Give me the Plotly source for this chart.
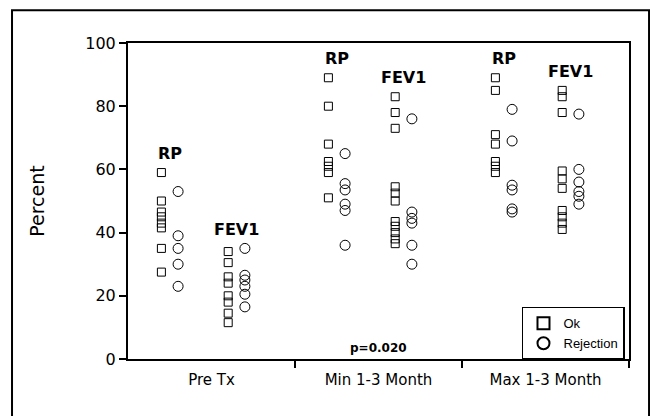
import plotly.graph_objects as go

categories = ["Pre Tx", "Min 1-3 Month", "Max 1-3 Month"]
y_ticks = [0, 20, 40, 60, 80, 100]
measures = ["RP", "FEV1"]
groups = ["Ok", "Rejection"]

# values per category (Pre Tx, Min 1-3 Month, Max 1-3 Month)
rp_ok = [[59, 50, 46.5, 45, 43, 41.5, 35, 27.5],
         [89, 80, 68, 62.5, 61, 59, 51],
         [89, 85, 71, 68, 62.5, 61, 59]]
rp_rej = [[53, 39, 35, 30, 23],
          [65, 55.5, 53.5, 49, 47, 36],
          [79, 69, 55, 53.5, 47.5, 46.5]]
fev1_ok = [[34, 30.5, 26, 24, 20, 18, 14.5, 11.5],
           [83, 78, 73, 54.5, 52.5, 50, 43.5, 42, 40, 38, 36.5],
           [85, 83, 78, 59.5, 57, 54, 47, 45, 43, 41]]
fev1_rej = [[35, 26.5, 25, 23, 20.5, 16.5],
            [76, 46.5, 44.5, 43, 36, 30],
            [77.5, 60, 56, 53, 51.5, 49]]
p_text = "p=0.020"

FONT = "DejaVu Sans, Arial, sans-serif"

# horizontal placement of columns inside each category (category units)
off = {("RP", "Ok"): -0.30, ("RP", "Rejection"): -0.20,
       ("FEV1", "Ok"): 0.10, ("FEV1", "Rejection"): 0.20}
data = {("RP", "Ok"): rp_ok, ("RP", "Rejection"): rp_rej,
        ("FEV1", "Ok"): fev1_ok, ("FEV1", "Rejection"): fev1_rej}

fig = go.Figure()
sym = {"Ok": ("square-open", 8), "Rejection": ("circle-open", 10)}
for g in groups:
    xs, ys = [], []
    for m in measures:
        for ci, vals in enumerate(data[(m, g)]):
            xs += [ci + off[(m, g)]] * len(vals)
            ys += vals
    fig.add_trace(go.Scatter(
        x=xs, y=ys, mode="markers", name=g,
        marker=dict(symbol=sym[g][0], size=sym[g][1], color="black",
                    line=dict(width=1, color="black")),
        cliponaxis=False))

annotations = []
for m in measures:
    for ci in range(len(categories)):
        top = max(max(data[(m, "Ok")][ci]), max(data[(m, "Rejection")][ci]))
        annotations.append(dict(
            x=ci + (off[(m, "Ok")] + off[(m, "Rejection")]) / 2, y=top + 6,
            xref="x", yref="y", text="<b>%s</b>" % m, showarrow=False,
            font=dict(family=FONT, size=16, color="black")))
annotations.append(dict(x=1, y=3.5, xref="x", yref="y", text="<b>%s</b>" % p_text,
                        showarrow=False, font=dict(family=FONT, size=12, color="black")))

fig.update_layout(
    width=650, height=416,
    margin=dict(l=128, r=21, t=43, b=57),
    paper_bgcolor="white", plot_bgcolor="white",
    font=dict(family=FONT, color="black"),
    showlegend=True,
    legend=dict(x=0.992, y=0.165, xanchor="right", yanchor="top",
                bordercolor="black", borderwidth=1.5, bgcolor="white",
                font=dict(family="Liberation Sans, Arial, sans-serif", size=13, color="black"),
                itemsizing="constant", itemwidth=30, tracegroupgap=0,
                traceorder="normal"),
    xaxis=dict(range=[-0.5, 2.5], tickmode="array",
               tickvals=list(range(len(categories))), ticktext=categories,
               ticks="outside", ticklen=6, tickcolor="rgba(0,0,0,0)",
               tickfont=dict(family=FONT, size=15, color="black"),
               showline=True, linecolor="black", linewidth=2, mirror=True,
               showgrid=False, zeroline=False, fixedrange=True,
               minor=dict(tickmode="array", tickvals=[0.5, 1.5, 2.5],
                          ticks="outside", ticklen=7, tickcolor="black",
                          tickwidth=2, showgrid=False)),
    yaxis=dict(range=[0, 100], tickvals=y_ticks,
               ticks="outside", ticklen=7, tickwidth=2, tickcolor="black",
               tickfont=dict(family=FONT, size=16, color="black"),
               showline=True, linecolor="black", linewidth=2, mirror=True,
               showgrid=False, zeroline=False,
               title=dict(text="Percent", standoff=36,
                          font=dict(family=FONT, size=19, color="black"))),
    annotations=annotations,
    shapes=[dict(type="rect", xref="paper", yref="paper",
                 x0=-0.2315, x1=1.04, y0=-0.2, y1=1.104,
                 line=dict(color="black", width=2), fillcolor="rgba(0,0,0,0)",
                 layer="below")],
)

fig.write_html("out.html", config={"displayModeBar": False},
               post_script="document.body.style.margin='0';document.body.style.padding='0';")
